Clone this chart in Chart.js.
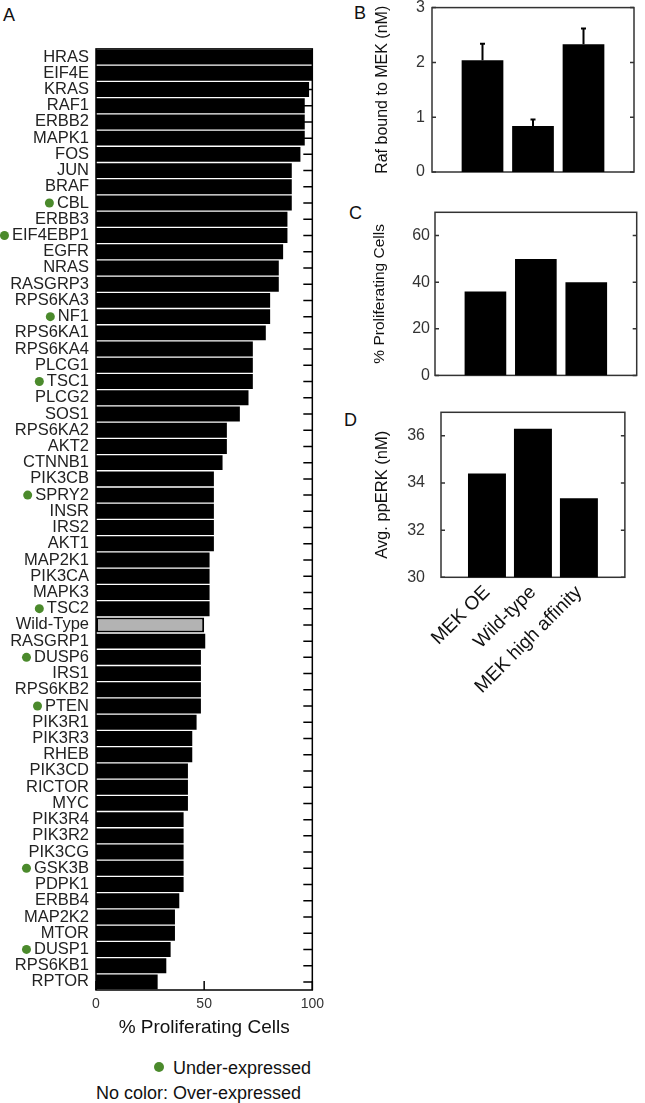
<!DOCTYPE html>
<html>
<head>
<meta charset="utf-8">
<script src="https://cdn.jsdelivr.net/npm/chart.js@4.4.0/dist/chart.umd.min.js"></script>
<style>
  body { margin: 0; background: #fff; width: 645px; height: 1103px; position: relative; overflow: hidden;
         font-family: "Liberation Sans", Arial, sans-serif; color: #111; }
  canvas { position: absolute; }
  .letter { position: absolute; font-size: 18px; line-height: 1; color: #111; }
  .legend { position: absolute; font-size: 18px; line-height: 1; color: #111; white-space: nowrap; }
  .dot { display: inline-block; width: 10px; height: 10px; border-radius: 50%; background: #4b8a2c; margin-right: 9px; vertical-align: 2px; }
</style>
</head>
<body>
<div class="letter" style="left:3px;top:6px">A</div>
<div class="letter" style="left:354px;top:4px">B</div>
<div class="letter" style="left:349px;top:204px">C</div>
<div class="letter" style="left:344px;top:411px">D</div>

<canvas id="chartA" width="330" height="1018" style="left:0;top:32px"></canvas>
<canvas id="chartB" width="295" height="199" style="left:350px;top:-9px"></canvas>
<canvas id="chartC" width="295" height="195" style="left:350px;top:195px"></canvas>
<canvas id="chartD" width="295" height="330" style="left:350px;top:385px"></canvas>

<div class="legend" style="left:154px;top:1059px"><span class="dot"></span>Under-expressed</div>
<div class="legend" style="left:96px;top:1084px">No color: Over-expressed</div>

<script>
const FONT = '"Liberation Sans", Arial, sans-serif'

// Panel A: knock-down / overexpression screen
const genes = ['HRAS', 'EIF4E', 'KRAS', 'RAF1', 'ERBB2', 'MAPK1', 'FOS', 'JUN', 'BRAF', 'CBL',
    'ERBB3', 'EIF4EBP1', 'EGFR', 'NRAS', 'RASGRP3', 'RPS6KA3', 'NF1', 'RPS6KA1', 'RPS6KA4', 'PLCG1',
    'TSC1', 'PLCG2', 'SOS1', 'RPS6KA2', 'AKT2', 'CTNNB1', 'PIK3CB', 'SPRY2', 'INSR', 'IRS2',
    'AKT1', 'MAP2K1', 'PIK3CA', 'MAPK3', 'TSC2', 'Wild-Type', 'RASGRP1', 'DUSP6', 'IRS1', 'RPS6KB2',
    'PTEN', 'PIK3R1', 'PIK3R3', 'RHEB', 'PIK3CD', 'RICTOR', 'MYC', 'PIK3R4', 'PIK3R2', 'PIK3CG',
    'GSK3B', 'PDPK1', 'ERBB4', 'MAP2K2', 'MTOR', 'DUSP1', 'RPS6KB1', 'RPTOR']
const proliferation = [100, 100, 98.5, 96.5, 96.5, 96.5, 94.5, 90.5, 90.5, 90.5,
    88.5, 88.5, 86.5, 84.5, 84.5, 80.5, 80.5, 78.5, 72.5, 72.5,
    72.5, 70.5, 66.5, 60.5, 60.5, 58.5, 54.5, 54.5, 54.5, 54.5,
    54.5, 52.5, 52.5, 52.5, 52.5, 50, 50.5, 48.5, 48.5, 48.5,
    48.5, 46.5, 44.5, 44.5, 42.5, 42.5, 42.5, 40.5, 40.5, 40.5,
    40.5, 40.5, 38.5, 36.5, 36.5, 34.5, 32.5, 28.5]
const underExpressed = ['CBL', 'EIF4EBP1', 'NF1', 'TSC1', 'SPRY2', 'TSC2', 'DUSP6', 'PTEN', 'GSK3B', 'DUSP1']
const wildType = 'Wild-Type'
const xTicksA = [0, 50, 100]

// Panels B-D: MEK variants
const mekConditions = ['MEK OE', 'Wild-type', 'MEK high affinity']
const rafBoundMek = [2.04, 0.84, 2.33]
const rafBoundMekErr = [0.30, 0.12, 0.29]
const mekProliferation = [36, 50, 40]
const mekPpErk = [34.4, 36.3, 33.35]

const GREEN = '#4b8a2c'

// box around plot area with inward ticks
const framePlugin = {
    id: 'frame',
    beforeDatasetsDraw(chart, args, o) {
        const { ctx, chartArea: a } = chart
        ctx.save()
        ctx.strokeStyle = o.color
        ctx.lineWidth = o.lineWidth
        ctx.strokeRect(a.left, a.top, a.right - a.left, a.bottom - a.top)
        ctx.beginPath()
        if (o.sideTicks) {
            const s = chart.scales[o.sideTicks]
            s.ticks.forEach((t, i) => {
                const y = s.getPixelForTick(i)
                if (o.leftTicks) {
                    ctx.moveTo(a.left, y)
                    ctx.lineTo(a.left + o.tickLen, y)
                }
                ctx.moveTo(a.right, y)
                ctx.lineTo(a.right - o.tickLen, y)
            })
        }
        if (o.bottomTicks) {
            const s = chart.scales[o.bottomTicks]
            s.ticks.forEach((t, i) => {
                const x = s.getPixelForTick(i)
                ctx.moveTo(x, a.bottom)
                ctx.lineTo(x, a.bottom - o.tickLen)
            })
        }
        ctx.stroke()
        ctx.restore()
    }
}

// green dots before under-expressed gene names
const dotPlugin = {
    id: 'geneDots',
    afterDraw(chart, args, o) {
        const s = chart.scales.y
        const ctx = chart.ctx
        ctx.save()
        ctx.font = o.fontSize + 'px ' + FONT
        ctx.fillStyle = o.color
        chart.data.labels.forEach((lab, i) => {
            if (!o.names.includes(lab)) return
            const w = ctx.measureText(lab).width
            const x = s.right - o.labelPad - w - o.gap - o.radius
            const y = s.getPixelForValue(i)
            ctx.beginPath()
            ctx.arc(x, y, o.radius, 0, Math.PI * 2)
            ctx.fill()
        })
        ctx.restore()
    }
}

// upper error bars
const errorBarPlugin = {
    id: 'errorBars',
    afterDatasetsDraw(chart, args, o) {
        if (!o.errors) return
        const meta = chart.getDatasetMeta(0)
        const y = chart.scales.y
        const values = chart.data.datasets[0].data
        const ctx = chart.ctx
        ctx.save()
        ctx.strokeStyle = '#000'
        ctx.lineWidth = 2
        meta.data.forEach((bar, i) => {
            const err = o.errors[i]
            if (err == null || values[i] == null) return
            const top = y.getPixelForValue(values[i] + err)
            ctx.beginPath()
            ctx.moveTo(bar.x, bar.y)
            ctx.lineTo(bar.x, top)
            ctx.moveTo(bar.x - 2.5, top)
            ctx.lineTo(bar.x + 2.5, top)
            ctx.stroke()
        })
        ctx.restore()
    }
}

new Chart(document.getElementById('chartA'), {
    type: 'bar',
    data: {
        labels: genes,
        datasets: [{
            data: proliferation,
            backgroundColor: genes.map(g => g === wildType ? '#b3b3b3' : '#000'),
            borderColor: '#000',
            borderWidth: genes.map(g => g === wildType ? 2 : 0),
            borderSkipped: false,
            barPercentage: 0.92,
            categoryPercentage: 1
        }]
    },
    options: {
        indexAxis: 'y',
        responsive: false,
        animation: false,
        layout: { padding: { top: 0, right: 16.7, left: 0, bottom: 0 } },
        plugins: {
            legend: { display: false },
            tooltip: { enabled: false },
            frame: { color: '#000', lineWidth: 1.5, tickLen: 9, sideTicks: 'y', leftTicks: false, bottomTicks: 'x' },
            geneDots: { names: underExpressed, color: GREEN, fontSize: 16.5, labelPad: 7, gap: 3, radius: 4.5 }
        },
        scales: {
            x: {
                min: 0,
                max: 100,
                afterBuildTicks: s => { s.ticks = xTicksA.map(v => ({ value: v })) },
                ticks: { padding: 6, color: '#333', font: { size: 14, family: FONT } },
                grid: { display: false, drawTicks: false },
                border: { display: false },
                title: { display: true, text: '% Proliferating Cells', color: '#111',
                    font: { size: 19, family: FONT }, padding: { top: 0, bottom: 11 } },
                afterFit: s => { s.height = 60 }
            },
            y: {
                ticks: { padding: 7, color: '#222', autoSkip: false, font: { size: 16.5, family: FONT } },
                grid: { display: false, drawTicks: false },
                border: { display: false },
                afterFit: s => { s.width = 96 }
            }
        }
    },
    plugins: [framePlugin, dotPlugin]
})

function mekPanel(id, values, cfg) {
    const pad = arr => [null, ...arr, null]
    return new Chart(document.getElementById(id), {
        type: 'bar',
        data: {
            labels: ['', ...mekConditions, ''],
            datasets: [{
                data: pad(values),
                backgroundColor: '#000',
                barPercentage: 0.826,
                categoryPercentage: 1
            }]
        },
        options: {
            responsive: false,
            animation: false,
            layout: { padding: cfg.padding },
            plugins: {
                legend: { display: false },
                tooltip: { enabled: false },
                frame: { color: '#333', lineWidth: 1.5, tickLen: 4, sideTicks: 'y', leftTicks: true },
                errorBars: { errors: cfg.errors ? pad(cfg.errors) : null }
            },
            scales: {
                x: {
                    display: cfg.showLabels,
                    offset: false,
                    ticks: { autoSkip: false, minRotation: 45, maxRotation: 45, padding: 4,
                        color: '#111', font: { size: 19, family: FONT } },
                    grid: { display: false, drawTicks: false },
                    border: { display: false },
                    afterFit: s => { s.height = cfg.xHeight || 0 }
                },
                y: {
                    min: cfg.min,
                    max: cfg.max,
                    ticks: { stepSize: cfg.step, includeBounds: false, padding: cfg.tickPad,
                        color: '#333', font: { size: 16, family: FONT } },
                    grid: { display: false, drawTicks: false },
                    border: { display: false },
                    title: { display: true, text: cfg.title, color: '#111',
                        font: { size: cfg.titleSize, family: FONT }, padding: { top: cfg.titlePad, bottom: 0 } },
                    afterFit: s => { s.width = cfg.yWidth }
                }
            }
        },
        plugins: [framePlugin, errorBarPlugin]
    })
}

mekPanel('chartB', rafBoundMek, {
    min: 0, max: 3, step: 1, tickPad: 7, title: 'Raf bound to MEK (nM)', titleSize: 16, titlePad: 23.4,
    yWidth: 82, padding: { top: 0, right: 11, left: 0, bottom: 18 }, showLabels: false, errors: rafBoundMekErr
})
mekPanel('chartC', mekProliferation, {
    min: 0, max: 70, step: 20, tickPad: 5, title: '% Proliferating Cells', titleSize: 15.5, titlePad: 20.7,
    yWidth: 85, padding: { top: 17.3, right: 8.3, left: 0, bottom: 14 }, showLabels: false
})
mekPanel('chartD', mekPpErk, {
    min: 30, max: 37, step: 2, tickPad: 16, title: 'Avg. ppERK (nM)', titleSize: 16.5, titlePad: 23,
    yWidth: 91, padding: { top: 27.3, right: 1.7, left: 0, bottom: 0 }, showLabels: true, xHeight: 137.7
})
</script>
</body>
</html>
